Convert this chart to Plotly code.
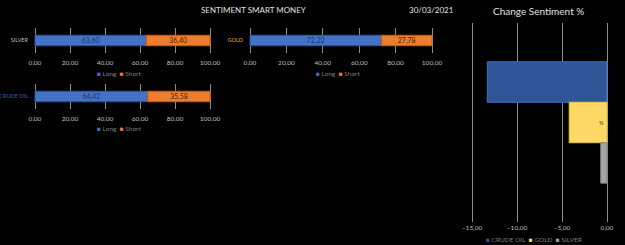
import plotly.graph_objects as go

W, H = 625, 245
FONT = "Lato"

# ---------------- data ----------------
assets = ["SILVER", "GOLD", "CRUDE OIL"]
long_vals = [63.60, 72.22, 64.42]
short_vals = [36.40, 27.78, 35.58]
pct_ticks = [0, 20, 40, 60, 80, 100]
series_names = ["Long", "Short"]

change_assets = ["CRUDE OIL", "GOLD", "SILVER"]
change_vals = [-13.3, -4.2, -0.7]
change_ticks = [-15, -10, -5, 0]
change_labels = ["", "%", ""]

title_text = "SENTIMENT SMART MONEY"
date_text = "30/03/2021"
right_title = "Change Sentiment %"

# ---------------- styles ----------------
LONG_C = "#4472C4"
SHORT_C = "#ED7D31"
label_colors = {"SILVER": "#BFBFBF", "GOLD": "#E2B430", "CRUDE OIL": "#3F63B0"}
change_colors = {"CRUDE OIL": "#2F5597", "GOLD": "#FFD966", "SILVER": "#A5A5A5"}
change_lines = {"CRUDE OIL": "#4472C4", "GOLD": "#E8C24A", "SILVER": "#7F7F7F"}
GRID = "#8C8C8C"
TXT = "#BFBFBF"
LEG_TXT = "#7F7F7F"


def px_y(top, bottom):
    return [1 - bottom / H, 1 - top / H]


def fmt(v):
    return f"{v:.2f}".replace(".", ",")


def legend_html(names, colors):
    parts = [f"<span style='color:{c}'>■</span> {n}" for n, c in zip(names, colors)]
    return "  ".join(parts)


def padded(lo, hi, px_lo, px_hi, pad_px=2):
    """Extend a value range by pad_px pixels on each side (keeps edge gridlines)."""
    scale = (px_hi - px_lo) / (hi - lo)
    return ([(px_lo - pad_px) / W, (px_hi + pad_px) / W],
            [lo - pad_px / scale, hi + pad_px / scale])


# panel geometry (pixels)
panels = {
    "SILVER": dict(x=(35, 210), y=(28, 53), leg=(119, 73)),
    "GOLD": dict(x=(250, 432), y=(28, 53), leg=(338, 73)),
    "CRUDE OIL": dict(x=(35, 210), y=(84, 109), leg=(119, 128)),
}

fig = go.Figure()
layout = dict(
    width=W, height=H,
    margin=dict(l=0, r=0, t=0, b=0, autoexpand=False),
    paper_bgcolor="black", plot_bgcolor="black",
    font=dict(family=FONT, color=TXT, size=7),
    separators=",.",
    barmode="group",
    bargap=0.39,
    showlegend=False,
)
annotations = []

for i, a in enumerate(assets):
    n = i + 1
    xa = "x" if n == 1 else f"x{n}"
    ya = "y" if n == 1 else f"y{n}"
    fig.add_trace(go.Bar(
        x=[long_vals[i]], y=[a], orientation="h", name=series_names[0],
        marker=dict(color=LONG_C, line=dict(color="#2F5597", width=1)),
        text=[fmt(long_vals[i])], textposition="inside", constraintext="none",
        insidetextanchor="middle", textfont=dict(color="#1F3864", size=7, family=FONT),
        width=0.42, offsetgroup="g", xaxis=xa, yaxis=ya, hoverinfo="skip",
    ))
    fig.add_trace(go.Bar(
        x=[short_vals[i]], y=[a], base=[long_vals[i]], orientation="h",
        name=series_names[1],
        marker=dict(color=SHORT_C, line=dict(color="#C55A11", width=1)),
        text=[fmt(short_vals[i])], textposition="inside", constraintext="none",
        insidetextanchor="middle", textfont=dict(color="#4A2508", size=7, family=FONT),
        width=0.42, offsetgroup="g", xaxis=xa, yaxis=ya, hoverinfo="skip",
    ))
    p = panels[a]
    dom, rng = padded(pct_ticks[0], pct_ticks[-1], p["x"][0], p["x"][1])
    xk = "xaxis" if n == 1 else f"xaxis{n}"
    yk = "yaxis" if n == 1 else f"yaxis{n}"
    layout[xk] = dict(
        domain=dom, anchor=ya, range=rng, automargin=False,
        tickvals=pct_ticks, tickformat=".2f", showgrid=True, gridcolor=GRID,
        gridwidth=1, griddash="solid", zeroline=False, showline=False, ticks="",
        tickfont=dict(size=6.5, color=TXT), ticklabelstandoff=4, fixedrange=True,
    )
    layout[yk] = dict(
        domain=px_y(*p["y"]), anchor=xa, range=[-0.5, 0.5], automargin=False,
        showgrid=False, zeroline=False, showline=False, ticks="",
        tickfont=dict(size=5.5, color=label_colors[a]), ticklabelstandoff=4,
        fixedrange=True,
    )
    annotations.append(dict(
        text=legend_html(series_names, [LONG_C, SHORT_C]),
        x=p["leg"][0] / W, y=1 - p["leg"][1] / H, xref="paper", yref="paper",
        showarrow=False, xanchor="center", yanchor="middle",
        font=dict(size=6.5, color=LEG_TXT, family=FONT),
    ))

# right chart
n = len(assets) + 1
xa, ya = f"x{n}", f"y{n}"
for j, c in enumerate(change_assets):
    fig.add_trace(go.Bar(
        x=[change_vals[j]], y=["%"], orientation="h", name=c,
        marker=dict(color=change_colors[c], line=dict(color=change_lines[c], width=1)),
        text=[change_labels[j]], textposition="inside", insidetextanchor="start",
        constraintext="none",
        textfont=dict(color="#404040", size=6, family=FONT),
        xaxis=xa, yaxis=ya, hoverinfo="skip",
    ))
rdom, rrng = padded(change_ticks[0], change_ticks[-1], 472, 607)
layout[f"xaxis{n}"] = dict(
    domain=rdom, anchor=ya, range=rrng, automargin=False,
    tickvals=change_ticks, tickformat=".2f", showgrid=True, gridcolor=GRID,
    gridwidth=1, griddash="solid",
    zeroline=True, zerolinecolor=GRID, zerolinewidth=1, showline=False, ticks="",
    tickfont=dict(size=6.5, color=TXT), fixedrange=True,
)
layout[f"yaxis{n}"] = dict(
    domain=px_y(23, 222), anchor=xa, autorange="reversed", automargin=False,
    showgrid=False, zeroline=False, showline=False, showticklabels=False,
    fixedrange=True,
)
annotations.append(dict(
    text=legend_html(change_assets, [change_colors[c] for c in change_assets]),
    x=534 / W, y=1 - 239 / H, xref="paper", yref="paper",
    showarrow=False, xanchor="center", yanchor="middle",
    font=dict(size=6.5, color=LEG_TXT, family=FONT),
))

annotations += [
    dict(text=title_text, x=253 / W, y=1 - 10 / H, xref="paper", yref="paper",
         showarrow=False, xanchor="center", yanchor="middle",
         font=dict(size=8, color="#E0E0E0", family=FONT)),
    dict(text=date_text, x=431 / W, y=1 - 10 / H, xref="paper", yref="paper",
         showarrow=False, xanchor="center", yanchor="middle",
         font=dict(size=8, color="#E0E0E0", family=FONT)),
    dict(text=right_title, x=538 / W, y=1 - 11 / H, xref="paper", yref="paper",
         showarrow=False, xanchor="center", yanchor="middle",
         font=dict(size=10, color="#E0E0E0", family=FONT)),
]
layout["annotations"] = annotations

fig.update_layout(**layout)
fig.write_html("out.html")
